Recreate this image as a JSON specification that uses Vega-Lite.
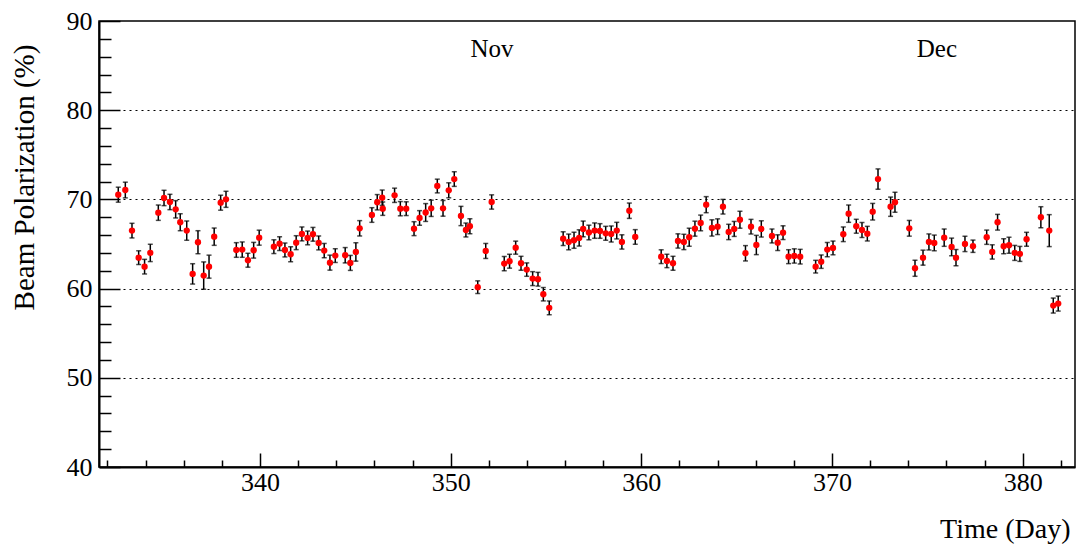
{
  "$schema": "https://vega.github.io/schema/vega-lite/v6.json",
  "width": 976,
  "height": 446,
  "autosize": {"type": "none"},
  "padding": {"left": 99, "top": 21, "right": 3, "bottom": 77},
  "background": "white",
  "config": {
    "view": {"stroke": "black", "strokeWidth": 1.5},
    "font": "Liberation Serif",
    "axis": {"labelFont": "Liberation Serif", "titleFont": "Liberation Serif"},
    "text": {"font": "Liberation Serif"}
  },
  "datasets": {
    "pts": [
      {"day": 332.57, "pol": 70.53, "err": 0.84},
      {"day": 332.94, "pol": 71.05, "err": 0.88},
      {"day": 333.29, "pol": 66.50, "err": 0.82},
      {"day": 333.64, "pol": 63.47, "err": 0.77},
      {"day": 333.95, "pol": 62.46, "err": 0.82},
      {"day": 334.25, "pol": 64.00, "err": 0.97},
      {"day": 334.67, "pol": 68.51, "err": 0.86},
      {"day": 334.97, "pol": 70.16, "err": 0.86},
      {"day": 335.28, "pol": 69.71, "err": 0.86},
      {"day": 335.58, "pol": 68.89, "err": 0.97},
      {"day": 335.82, "pol": 67.44, "err": 0.95},
      {"day": 336.16, "pol": 66.50, "err": 1.08},
      {"day": 336.47, "pol": 61.65, "err": 1.14},
      {"day": 336.75, "pol": 65.20, "err": 1.29},
      {"day": 337.05, "pol": 61.46, "err": 1.53},
      {"day": 337.33, "pol": 62.46, "err": 1.29},
      {"day": 337.60, "pol": 65.82, "err": 0.97},
      {"day": 337.94, "pol": 69.63, "err": 0.84},
      {"day": 338.22, "pol": 70.01, "err": 0.90},
      {"day": 338.76, "pol": 64.33, "err": 0.82},
      {"day": 339.07, "pol": 64.37, "err": 0.86},
      {"day": 339.37, "pol": 63.18, "err": 0.78},
      {"day": 339.67, "pol": 64.30, "err": 0.88},
      {"day": 339.96, "pol": 65.71, "err": 0.84},
      {"day": 340.73, "pol": 64.70, "err": 0.77},
      {"day": 341.03, "pol": 65.04, "err": 0.77},
      {"day": 341.31, "pol": 64.33, "err": 0.78},
      {"day": 341.61, "pol": 63.85, "err": 0.84},
      {"day": 341.90, "pol": 65.15, "err": 0.78},
      {"day": 342.20, "pol": 66.13, "err": 0.78},
      {"day": 342.50, "pol": 65.68, "err": 0.77},
      {"day": 342.78, "pol": 66.09, "err": 0.77},
      {"day": 343.08, "pol": 65.12, "err": 0.78},
      {"day": 343.37, "pol": 64.26, "err": 0.80},
      {"day": 343.67, "pol": 62.91, "err": 0.84},
      {"day": 343.95, "pol": 63.70, "err": 0.77},
      {"day": 344.47, "pol": 63.74, "err": 0.86},
      {"day": 344.74, "pol": 62.88, "err": 0.84},
      {"day": 345.03, "pol": 64.11, "err": 1.03},
      {"day": 345.23, "pol": 66.76, "err": 0.86},
      {"day": 345.87, "pol": 68.25, "err": 0.82},
      {"day": 346.15, "pol": 69.68, "err": 0.86},
      {"day": 346.41, "pol": 70.19, "err": 0.86},
      {"day": 346.44, "pol": 68.96, "err": 0.75},
      {"day": 347.06, "pol": 70.46, "err": 0.80},
      {"day": 347.36, "pol": 68.96, "err": 0.80},
      {"day": 347.67, "pol": 68.96, "err": 0.77},
      {"day": 348.08, "pol": 66.72, "err": 0.78},
      {"day": 348.37, "pol": 67.92, "err": 0.82},
      {"day": 348.69, "pol": 68.53, "err": 1.00},
      {"day": 348.98, "pol": 69.00, "err": 0.91},
      {"day": 349.30, "pol": 71.50, "err": 0.77},
      {"day": 349.60, "pol": 69.00, "err": 0.88},
      {"day": 349.90, "pol": 71.02, "err": 0.84},
      {"day": 350.19, "pol": 72.28, "err": 0.82},
      {"day": 350.54, "pol": 68.14, "err": 1.08},
      {"day": 350.80, "pol": 66.57, "err": 0.78},
      {"day": 351.01, "pol": 66.99, "err": 0.84},
      {"day": 351.42, "pol": 60.16, "err": 0.71},
      {"day": 351.84, "pol": 64.22, "err": 0.84},
      {"day": 352.15, "pol": 69.71, "err": 0.80},
      {"day": 352.81, "pol": 62.80, "err": 0.80},
      {"day": 353.09, "pol": 63.07, "err": 0.78},
      {"day": 353.41, "pol": 64.59, "err": 0.73},
      {"day": 353.69, "pol": 62.84, "err": 0.78},
      {"day": 353.99, "pol": 62.13, "err": 0.75},
      {"day": 354.30, "pol": 61.12, "err": 0.78},
      {"day": 354.58, "pol": 61.05, "err": 0.77},
      {"day": 354.86, "pol": 59.37, "err": 0.75},
      {"day": 355.17, "pol": 57.84, "err": 0.77},
      {"day": 355.90, "pol": 65.60, "err": 0.77},
      {"day": 356.19, "pol": 65.23, "err": 0.88},
      {"day": 356.47, "pol": 65.42, "err": 0.90},
      {"day": 356.74, "pol": 65.68, "err": 0.91},
      {"day": 356.95, "pol": 66.69, "err": 0.88},
      {"day": 357.25, "pol": 66.29, "err": 0.82},
      {"day": 357.55, "pol": 66.50, "err": 0.86},
      {"day": 357.83, "pol": 66.46, "err": 0.82},
      {"day": 358.13, "pol": 66.20, "err": 0.78},
      {"day": 358.42, "pol": 66.13, "err": 0.90},
      {"day": 358.71, "pol": 66.50, "err": 0.93},
      {"day": 358.98, "pol": 65.23, "err": 0.80},
      {"day": 359.37, "pol": 68.73, "err": 0.86},
      {"day": 359.68, "pol": 65.79, "err": 0.82},
      {"day": 361.04, "pol": 63.58, "err": 0.77},
      {"day": 361.34, "pol": 63.10, "err": 0.75},
      {"day": 361.66, "pol": 62.84, "err": 0.78},
      {"day": 361.92, "pol": 65.34, "err": 0.80},
      {"day": 362.23, "pol": 65.23, "err": 0.86},
      {"day": 362.51, "pol": 65.76, "err": 1.01},
      {"day": 362.81, "pol": 66.72, "err": 0.84},
      {"day": 363.11, "pol": 67.36, "err": 0.88},
      {"day": 363.40, "pol": 69.41, "err": 0.90},
      {"day": 363.70, "pol": 66.80, "err": 0.91},
      {"day": 364.00, "pol": 66.94, "err": 0.88},
      {"day": 364.28, "pol": 69.18, "err": 0.82},
      {"day": 364.58, "pol": 66.35, "err": 0.86},
      {"day": 364.87, "pol": 66.69, "err": 0.84},
      {"day": 365.17, "pol": 67.72, "err": 0.95},
      {"day": 365.46, "pol": 63.96, "err": 0.86},
      {"day": 365.75, "pol": 66.94, "err": 0.82},
      {"day": 366.03, "pol": 64.89, "err": 1.08},
      {"day": 366.29, "pol": 66.69, "err": 0.91},
      {"day": 366.85, "pol": 65.90, "err": 0.78},
      {"day": 367.15, "pol": 65.15, "err": 0.88},
      {"day": 367.43, "pol": 66.27, "err": 0.77},
      {"day": 367.72, "pol": 63.58, "err": 0.78},
      {"day": 368.02, "pol": 63.66, "err": 0.80},
      {"day": 368.33, "pol": 63.58, "err": 0.82},
      {"day": 369.14, "pol": 62.46, "err": 0.71},
      {"day": 369.43, "pol": 63.02, "err": 0.75},
      {"day": 369.75, "pol": 64.37, "err": 0.80},
      {"day": 370.05, "pol": 64.56, "err": 0.77},
      {"day": 370.59, "pol": 66.09, "err": 0.82},
      {"day": 370.87, "pol": 68.40, "err": 0.97},
      {"day": 371.27, "pol": 66.99, "err": 0.78},
      {"day": 371.57, "pol": 66.57, "err": 0.84},
      {"day": 371.85, "pol": 66.16, "err": 0.82},
      {"day": 372.13, "pol": 68.62, "err": 0.93},
      {"day": 372.41, "pol": 72.28, "err": 1.14},
      {"day": 373.07, "pol": 69.18, "err": 1.08},
      {"day": 373.30, "pol": 69.68, "err": 1.12},
      {"day": 374.05, "pol": 66.76, "err": 0.88},
      {"day": 374.35, "pol": 62.28, "err": 0.90},
      {"day": 374.77, "pol": 63.47, "err": 0.84},
      {"day": 375.08, "pol": 65.23, "err": 0.90},
      {"day": 375.36, "pol": 65.12, "err": 0.88},
      {"day": 375.88, "pol": 65.71, "err": 0.97},
      {"day": 376.27, "pol": 64.67, "err": 0.99},
      {"day": 376.50, "pol": 63.47, "err": 0.91},
      {"day": 376.97, "pol": 65.01, "err": 0.86},
      {"day": 377.39, "pol": 64.75, "err": 0.69},
      {"day": 378.11, "pol": 65.76, "err": 0.80},
      {"day": 378.40, "pol": 64.11, "err": 0.80},
      {"day": 378.68, "pol": 67.44, "err": 0.88},
      {"day": 379.00, "pol": 64.75, "err": 0.84},
      {"day": 379.28, "pol": 64.86, "err": 0.90},
      {"day": 379.58, "pol": 64.00, "err": 0.84},
      {"day": 379.85, "pol": 63.89, "err": 0.84},
      {"day": 380.20, "pol": 65.53, "err": 0.78},
      {"day": 380.95, "pol": 68.00, "err": 1.18},
      {"day": 381.39, "pol": 66.50, "err": 1.79},
      {"day": 381.60, "pol": 58.10, "err": 0.84},
      {"day": 381.86, "pol": 58.32, "err": 0.84}
    ],
    "divs": [
      {"day": 337.13},
      {"day": 368.23}
    ],
    "months": [
      {"day": 352.17, "pol": 85.95, "label": "Nov"},
      {"day": 375.5, "pol": 85.95, "label": "Dec"}
    ]
  },
  "encoding": {
    "x": {
      "field": "day",
      "type": "quantitative",
      "scale": {"domain": [331.56, 382.74], "nice": false, "zero": false},
      "axis": {
        "title": "Time (Day)",
        "titleFont": "Liberation Serif",
        "titleFontSize": 28,
        "titleFontWeight": "normal",
        "titleColor": "black",
        "titleX": 971,
        "titleY": 70,
        "titleAlign": "right",
        "titleBaseline": "alphabetic",
        "titleAngle": 0,
        "values": [332, 334, 336, 338, 340, 342, 344, 346, 348, 350, 352, 354, 356, 358, 360, 362, 364, 366, 368, 370, 372, 374, 376, 378, 380, 382],
        "labelExpr": "datum.value % 10 === 0 ? datum.label : ''",
        "labelFont": "Liberation Serif",
        "labelFontWeight": "normal",
        "labelFontSize": 26,
        "labelColor": "black",
        "labelPadding": 16,
        "labelFlush": false,
        "labelOverlap": false,
        "tickColor": "black",
        "tickWidth": 1.5,
        "tickSize": {"condition": {"test": "datum.value % 10 === 0", "value": -14}, "value": -7},
        "domainColor": "black",
        "domainWidth": 2,
        "grid": false
      }
    },
    "y": {
      "field": "pol",
      "type": "quantitative",
      "scale": {"domain": [40, 90], "nice": false, "zero": false},
      "axis": {
        "title": "Beam Polarization (%)",
        "titleFont": "Liberation Serif",
        "titleFontSize": 29,
        "titleFontWeight": "normal",
        "titleColor": "black",
        "titleX": -66,
        "titleY": 156,
        "titleAngle": -90,
        "titleAlign": "center",
        "titleBaseline": "alphabetic",
        "values": [40, 42, 44, 46, 48, 50, 52, 54, 56, 58, 60, 62, 64, 66, 68, 70, 72, 74, 76, 78, 80, 82, 84, 86, 88, 90],
        "labelExpr": "datum.value % 10 === 0 ? datum.label : ''",
        "labelFont": "Liberation Serif",
        "labelFontWeight": "normal",
        "labelFontSize": 26,
        "labelColor": "black",
        "labelPadding": 28,
        "labelFlush": false,
        "labelOverlap": false,
        "tickColor": "black",
        "tickWidth": 1.5,
        "tickSize": {"condition": {"test": "datum.value % 10 === 0", "value": -21}, "value": -12},
        "domainColor": "black",
        "domainWidth": 2,
        "grid": true,
        "gridColor": "black",
        "gridWidth": 1.2,
        "gridDash": [2, 4],
        "gridOpacity": {"condition": {"test": "datum.value % 10 === 0 && datum.value > 40 && datum.value < 90", "value": 1}, "value": 0}
      }
    }
  },
  "layer": [
    {
      "data": {"name": "divs"},
      "mark": {"type": "rule", "color": "#1a1aff", "strokeWidth": 1.5, "strokeDash": [8, 4, 2, 4]},
      "encoding": {
        "y": {"datum": 40},
        "y2": {"datum": 90}
      }
    },
    {
      "data": {"name": "pts"},
      "mark": {"type": "errorbar", "color": "black", "ticks": {"size": 5, "thickness": 1.5, "color": "black"}, "rule": {"strokeWidth": 1.5}},
      "encoding": {
        "yError": {"field": "err"}
      }
    },
    {
      "data": {"name": "pts"},
      "mark": {"type": "circle", "color": "#ff0000", "opacity": 1, "size": 40}
    },
    {
      "data": {"name": "months"},
      "mark": {"type": "text", "font": "Liberation Serif", "fontSize": 25, "color": "black", "align": "center", "baseline": "alphabetic"},
      "encoding": {
        "text": {"field": "label"}
      }
    }
  ]
}
